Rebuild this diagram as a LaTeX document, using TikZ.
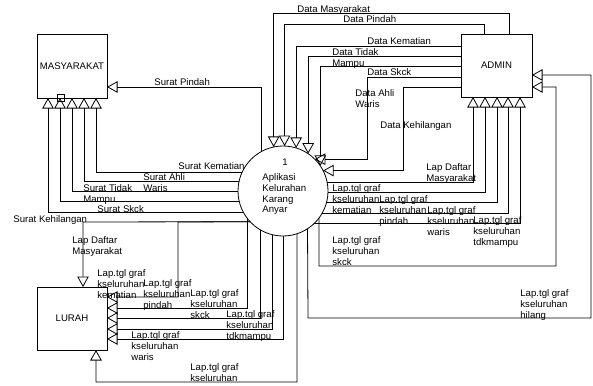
\documentclass[tikz,border=0pt]{standalone}
\usepackage{fontspec}
\setmainfont{Liberation Sans}
\usetikzlibrary{arrows.meta,calc}
\newcommand\labfont{\fontsize{9.6}{10.7}\selectfont}
\begin{document}
\begin{tikzpicture}[x=1pt,y=-1pt,line width=0.8pt,
  flow/.style={-{Triangle[open,length=10.5pt,width=11.5pt]}},
  box/.style={draw,inner sep=0pt,outer sep=0pt,font=\labfont},
  lab/.style={anchor=north west,inner sep=0pt,align=left,font=\labfont}]
\fill[white] (0,0) rectangle (593,385);
\useasboundingbox (0,0) rectangle (593,385);
% entities and process
\node[box,minimum width=70pt,minimum height=64pt] (M) at (72,66) {MASYARAKAT};
\node[box,minimum width=71pt,minimum height=63pt] (A) at (496.5,65.5) {ADMIN};
\node[box,minimum width=70pt,minimum height=63pt] (L) at (72,318.5) {LURAH};
\node[draw,circle,minimum size=90pt,inner sep=0pt,outer sep=0pt] (P) at (283,191) {};
\node[inner sep=0pt,font=\labfont] (pnum) at (285,162) {1};
\node[lab] (ptxt) at (262,173.5) {Aplikasi\\Kelurahan\\Karang\\Anyar};
% ADMIN -> process
\draw[flow] (A.north -| 509,0) -- (509,13) -| (P.102.84);
\draw[flow] (A.north -| 484,0) -- (484,24) -| (P.88.73);
\draw[flow] (A.west |- 0,46) -| (P.73.21);
\draw[flow] (A.west |- 0,56) -| (P.56.25);
\draw[flow] (A.west |- 0,66) -| (P.34.69);
\draw[flow] (A.west |- 0,77) -- (367,77) |- (P.45.33);
\draw[flow] (A.west |- 0,87) -- (403,87) |- (P.27.82);
% process -> MASYARAKAT
\draw[flow] (P.119.27) |- (M.east |- 0,87);
\draw[flow] (P.155.02) -| (M.south -| 96,0);
\draw[flow] (P.168.46) -| (M.south -| 84,0);
\draw[flow] (P.181.27) -| (M.south -| 72,0);
\draw[flow] (P.194.15) -| (M.south -| 60,0);
\draw[flow] (P.209.27) -| (M.south -| 48,0);
\draw[line width=0.6pt] (57,94) rectangle (64,101);
% process -> LURAH
\draw[flow] (P.223.54) -- (83,222) -- (L.north -| 83,0);
\draw[flow] (P.223.54) -- (178,222) |- (L.east |- 0,297);
\draw[flow] (P.218.94) |- (L.east |- 0,308);
\draw[flow] (P.240.73) |- (L.east |- 0,318);
\draw[flow] (P.257.16) |- (L.east |- 0,329);
\draw[flow] (P.271.27) |- (L.east |- 0,339);
\draw[flow] (P.288.13) -- (297,382) -| (L.south -| 96,0);
% process -> ADMIN
\draw[flow] (P.11.54) -| (A.south -| 473,0);
\draw[flow] (P.358.73) -| (A.south -| 485,0);
\draw[flow] (P.345.85) -| (A.south -| 497,0);
\draw[flow] (P.330.73) -| (A.south -| 508,0);
\draw[flow] (P.314.67) -| (A.south -| 520,0);
\draw[flow] (P.323.13) -- (319,266) -- (556,266) |- (A.east |- 0,87);
\draw[flow] (P.303.75) -- (308,318) -- (591,318) |- (A.east |- 0,75);
% labels
\node[lab] (t1) at (297,5.5) {Data Masyarakat};
\node[lab] (t2) at (343,15.5) {Data Pindah};
\node[lab] (t3) at (367,37.5) {Data Kematian};
\node[lab] (t4) at (332,48.5) {Data Tidak\\Mampu};
\node[lab] (t5) at (367,68.5) {Data Skck};
\node[lab] (t6) at (355,89.5) {Data Ahli\\Waris};
\node[lab] (t7) at (380,121.5) {Data Kehilangan};
\node[lab] (t8) at (154,78.5) {Surat Pindah};
\node[lab] (t9) at (426,163.5) {Lap Daftar\\Masyarakat};
\node[lab] (t10) at (332,184.5) {Lap.tgl graf\\kseluruhan\\kematian};
\node[lab] (t11) at (379,195.5) {Lap.tgl graf\\kseluruhan\\pindah};
\node[lab] (t12) at (427,206.5) {Lap.tgl graf\\kseluruhan\\waris};
\node[lab] (t13) at (473,216.5) {Lap.tgl graf\\kseluruhan\\tdkmampu};
\node[lab] (t14) at (332,236.5) {Lap.tgl graf\\kseluruhan\\skck};
\node[lab] (t15) at (520,289.5) {Lap.tgl graf\\kseluruhan\\hilang};
\node[lab] (t16) at (178,162.5) {Surat Kematian};
\node[lab] (t17) at (143,173.5) {Surat Ahli\\Waris};
\node[lab] (t18) at (83,184.5) {Surat Tidak\\Mampu};
\node[lab] (t19) at (97,205.5) {Surat Skck};
\node[lab] (t20) at (13,215.5) {Surat Kehilangan};
\node[lab] (t21) at (72,236.5) {Lap Daftar\\Masyarakat};
\node[lab] (t22) at (97,269.5) {Lap.tgl graf\\kseluruhan\\kematian};
\node[lab] (t23) at (143,279.5) {Lap.tgl graf\\kseluruhan\\pindah};
\node[lab] (t24) at (190,289.5) {Lap.tgl graf\\kseluruhan\\skck};
\node[lab] (t25) at (226,310.5) {Lap.tgl graf\\kseluruhan\\tdkmampu};
\node[lab] (t26) at (131,331.5) {Lap.tgl graf\\kseluruhan\\waris};
\node[lab] (t27) at (190,363.5) {Lap.tgl graf\\kseluruhan};
\end{tikzpicture}
\end{document}
